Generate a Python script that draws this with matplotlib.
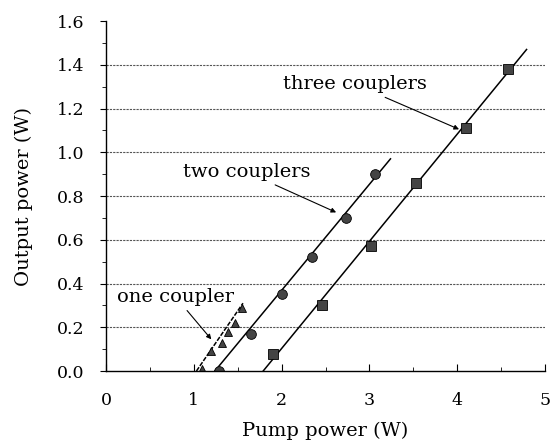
import matplotlib.pyplot as plt
import numpy as np

# measured points
one_x = [1.09, 1.20, 1.32, 1.39, 1.47, 1.55]
one_y = [0.01, 0.09, 0.13, 0.18, 0.22, 0.29]
two_x = [1.29, 1.65, 2.01, 2.35, 2.73, 3.06]
two_y = [0.00, 0.17, 0.35, 0.52, 0.70, 0.90]
three_x = [1.90, 2.46, 3.02, 3.53, 4.10, 4.58]
three_y = [0.08, 0.30, 0.57, 0.86, 1.11, 1.38]

# fitted lines (end points)
one_fit_x = [1.03, 1.56]
one_fit_y = [0.0, 0.31]
two_fit_x = [1.24, 3.24]
two_fit_y = [0.0, 0.97]
three_fit_x = [1.79, 4.79]
three_fit_y = [0.0, 1.47]

plt.rcParams['font.family'] = ['DejaVu Serif']

fig = plt.figure(figsize=(5.55, 4.43), dpi=100)
ax = fig.add_axes([0.191, 0.1625, 0.791, 0.79])

for y in [0.2, 0.4, 0.6, 0.8, 1.0, 1.2, 1.4]:
    ax.axhline(y, color='#555555', lw=0.8, ls=(0, (2, 1)), zorder=0)

ax.plot(one_fit_x, one_fit_y, color='black', lw=1.1, ls=(0, (3, 1)))
ax.plot(two_fit_x, two_fit_y, color='black', lw=1.1)
ax.plot(three_fit_x, three_fit_y, color='black', lw=1.1)

ax.plot(one_x, one_y, '^', ms=5.5, mfc='#444444', mec='black', mew=0.6, ls='none')
ax.plot(two_x, two_y, 'o', ms=7, mfc='#444444', mec='black', mew=0.6, ls='none')
ax.plot(three_x, three_y, 's', ms=6.5, mfc='#444444', mec='black', mew=0.6, ls='none')

arrow = dict(arrowstyle='-|>', color='black', lw=0.8, mutation_scale=7)
ax.annotate('one coupler', xy=(1.22, 0.135), xytext=(0.79, 0.34),
            ha='center', va='center', fontsize=14, arrowprops=arrow)
ax.annotate('two couplers', xy=(2.65, 0.72), xytext=(1.60, 0.91),
            ha='center', va='center', fontsize=14, arrowprops=arrow)
ax.annotate('three couplers', xy=(4.05, 1.10), xytext=(2.84, 1.31),
            ha='center', va='center', fontsize=14, arrowprops=arrow)

ax.set_xlim(0, 5)
ax.set_ylim(0, 1.6)
ax.set_xticks([0, 1, 2, 3, 4, 5])
ax.set_xticks(np.arange(0.5, 5, 1), minor=True)
ax.set_yticks(np.arange(0, 1.61, 0.2))
ax.set_yticks(np.arange(0.1, 1.6, 0.2), minor=True)
ax.set_yticklabels(['%.1f' % v for v in np.arange(0, 1.61, 0.2)])

ax.spines['top'].set_visible(False)
ax.spines['right'].set_visible(False)
ax.spines['left'].set_linestyle((0, (2, 1)))
ax.spines['left'].set_linewidth(1.0)
ax.spines['bottom'].set_linewidth(1.0)

ax.tick_params(axis='x', direction='in', length=5, labelsize=12.5, pad=15)
ax.tick_params(axis='x', which='minor', direction='in', length=3)
ax.tick_params(axis='y', direction='out', length=4.5, labelsize=12.5, pad=11)
ax.tick_params(axis='y', which='minor', direction='out', length=3)

ax.set_xlabel('Pump power (W)', fontsize=14, labelpad=9)
ax.set_ylabel('Output power (W)', fontsize=14, labelpad=17)

fig.savefig('out.png', dpi=100)
